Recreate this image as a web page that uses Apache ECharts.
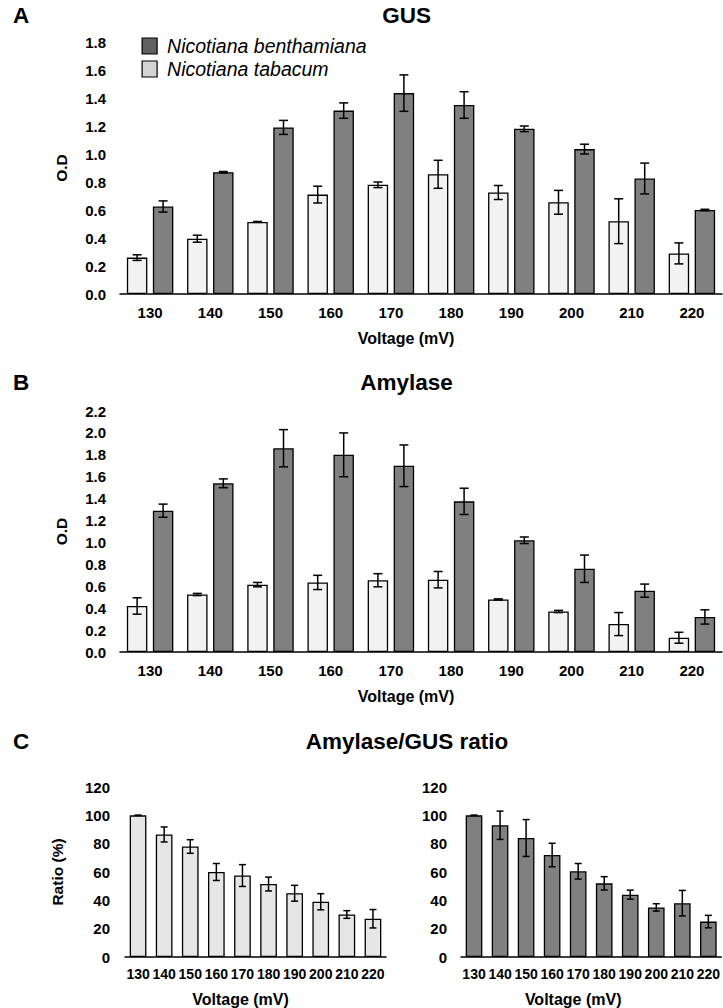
<!DOCTYPE html>
<html>
<head>
<meta charset="utf-8">
<script src="https://cdn.jsdelivr.net/npm/echarts@6/dist/echarts.min.js"></script>
<style>
html,body{margin:0;padding:0;background:#fff;}
#chart{width:723px;height:1008px;}
</style>
</head>
<body>
<div id="chart"></div>
<script>
// ---- data ----
const categories = ['130','140','150','160','170','180','190','200','210','220'];

const gusBenth    = [0.625, 0.87, 1.19, 1.31, 1.435, 1.35, 1.18, 1.035, 0.825, 0.60];
const gusBenthErr = [0.04, 0.005, 0.05, 0.055, 0.13, 0.095, 0.02, 0.035, 0.11, 0.005];
const gusTab      = [0.26, 0.395, 0.515, 0.71, 0.78, 0.855, 0.725, 0.655, 0.52, 0.29];
const gusTabErr   = [0.02, 0.025, 0.003, 0.06, 0.02, 0.10, 0.05, 0.085, 0.16, 0.075];

const amyBenth    = [1.29, 1.54, 1.86, 1.80, 1.70, 1.375, 1.02, 0.76, 0.56, 0.32];
const amyBenthErr = [0.06, 0.04, 0.17, 0.20, 0.19, 0.12, 0.03, 0.125, 0.06, 0.065];
const amyTab      = [0.42, 0.525, 0.615, 0.635, 0.655, 0.66, 0.48, 0.37, 0.255, 0.13];
const amyTabErr   = [0.075, 0.01, 0.02, 0.065, 0.06, 0.075, 0.005, 0.01, 0.105, 0.05];

const ratioTab      = [100, 86.5, 78, 60, 57.5, 51.5, 45, 39, 30, 27];
const ratioTabErr   = [0, 5.3, 4.8, 6, 7.7, 4.9, 5.6, 5.7, 2.7, 6.5];
const ratioBenth    = [100, 93, 84, 72, 60.5, 52, 44, 35, 38, 25];
const ratioBenthErr = [0, 10, 13, 8.3, 5.5, 4.7, 3.2, 2.6, 9, 4.4];

const nameBenth = 'Nicotiana benthamiana';
const nameTab = 'Nicotiana tabacum';

// ---- styling ----
const FONT = "'Liberation Sans', Arial, sans-serif";
const DARK = '#808080';
const LIGHT = '#f2f2f2';
const LIGHT_C = '#e6e6e6';

function errData(vals, errs) {
  return vals.map((v, i) => [i, v, errs[i]]);
}

function errRender(sign, widthFrac, gapFrac, capHalf) {
  return function (params, api) {
    const i = api.value(0), v = api.value(1), e = api.value(2);
    const bw = api.size([1, 0])[0];
    const w = bw * widthFrac;
    const off = sign * (w + w * gapFrac) / 2;
    const top = api.coord([i, v + e]);
    const bot = api.coord([i, v - e]);
    const x = top[0] + off;
    const st = { stroke: '#000', lineWidth: 1.5 };
    return {
      type: 'group',
      children: [
        { type: 'line', shape: { x1: x, y1: top[1], x2: x, y2: bot[1] }, style: st },
        { type: 'line', shape: { x1: x - capHalf, y1: top[1], x2: x + capHalf, y2: top[1] }, style: st },
        { type: 'line', shape: { x1: x - capHalf, y1: bot[1], x2: x + capHalf, y2: bot[1] }, style: st }
      ]
    };
  };
}

function xAx(gridIndex, nameGap, labelMargin, labelSize, nameShift) {
  return {
    type: 'category', gridIndex: gridIndex, data: categories,
    axisTick: { show: false },
    axisLine: { lineStyle: { color: '#000', width: 1.5 } },
    axisLabel: { interval: 0, hideOverlap: false, margin: labelMargin, color: '#000', fontWeight: 'bold', fontSize: labelSize, fontFamily: FONT },
    name: 'Voltage (mV)', nameLocation: 'middle', nameGap: nameGap,
    nameTextStyle: { color: '#000', fontWeight: 'bold', fontSize: 16, fontFamily: FONT, padding: [0, nameShift * 2, 0, 0] }
  };
}

function yAx(gridIndex, max, interval, decimals, name, nameGap, margin) {
  return {
    type: 'value', gridIndex: gridIndex, min: 0, max: max, interval: interval,
    splitLine: { show: false }, axisLine: { show: false }, axisTick: { show: false },
    axisLabel: { margin: margin, color: '#000', fontWeight: 'bold', fontSize: 15, fontFamily: FONT,
      formatter: v => v.toFixed(decimals) },
    name: name, nameLocation: 'middle', nameGap: nameGap, nameRotate: 90,
    nameTextStyle: { color: '#000', fontWeight: 'bold', fontSize: 15.5, fontFamily: FONT }
  };
}

const BW = 0.34, BG = 0.27;
const barStyle = (c) => ({ color: c, borderColor: '#000', borderWidth: 1.3 });

function titleText(t, x, y) {
  return { type: 'text', x: x, y: y, style: { text: t, fill: '#000', font: "bold 22.5px " + FONT, textAlign: 'center', textVerticalAlign: 'middle' } };
}

const option = {
  animation: false,
  backgroundColor: '#fff',
  graphic: [
    titleText('A', 21, 15), titleText('GUS', 406.5, 15),
    titleText('B', 21, 382), titleText('Amylase', 406.5, 382),
    titleText('C', 21, 741), titleText('Amylase/GUS ratio', 407, 741)
  ],
  legend: {
    data: [
      { name: nameBenth, itemStyle: { color: '#606060' } },
      { name: nameTab, itemStyle: { color: '#d4d4d4' } }
    ],
    orient: 'vertical', left: 136.5, top: 31, padding: 5,
    itemWidth: 15, itemHeight: 16, itemGap: 3,
    icon: 'rect',
    itemStyle: { borderColor: '#000', borderWidth: 1.2 },
    textStyle: { fontSize: 19.5, fontStyle: 'italic', color: '#000', fontFamily: FONT, lineHeight: 16, padding: [0, 0, 0, 5] },
    selectedMode: false
  },
  grid: [
    { left: 120, top: 42, width: 602, height: 252 },
    { left: 120, top: 411, width: 602, height: 241 },
    { left: 125, top: 787, width: 261, height: 170 },
    { left: 461, top: 787, width: 261, height: 170 }
  ],
  xAxis: [ xAx(0, 36, 11, 15, 15), xAx(1, 36, 10.5, 15, 15), xAx(2, 34, 9.5, 14, 15), xAx(3, 34, 9.5, 14, 18) ],
  yAxis: [
    yAx(0, 1.8, 0.2, 1, 'O.D', 51, 14),
    yAx(1, 2.2, 0.2, 1, 'O.D', 51, 14),
    yAx(2, 120, 20, 0, 'Ratio (%)', 60, 15),
    yAx(3, 120, 20, 0, '', 50, 14)
  ],
  series: [
    { type: 'bar', name: nameTab, xAxisIndex: 0, yAxisIndex: 0, data: gusTab, barWidth: BW * 100 + '%', barGap: BG * 100 + '%', itemStyle: barStyle(LIGHT) },
    { type: 'bar', name: nameBenth, xAxisIndex: 0, yAxisIndex: 0, data: gusBenth, barWidth: BW * 100 + '%', barGap: BG * 100 + '%', itemStyle: barStyle(DARK) },
    { type: 'custom', name: 'errGusTab', xAxisIndex: 0, yAxisIndex: 0, data: errData(gusTab, gusTabErr), renderItem: errRender(-1, BW, BG, 4.5), encode: { x: 0, y: 1 }, z: 10 },
    { type: 'custom', name: 'errGusBenth', xAxisIndex: 0, yAxisIndex: 0, data: errData(gusBenth, gusBenthErr), renderItem: errRender(1, BW, BG, 4.5), encode: { x: 0, y: 1 }, z: 10 },

    { type: 'bar', name: nameTab, xAxisIndex: 1, yAxisIndex: 1, data: amyTab, barWidth: BW * 100 + '%', barGap: BG * 100 + '%', itemStyle: barStyle(LIGHT) },
    { type: 'bar', name: nameBenth, xAxisIndex: 1, yAxisIndex: 1, data: amyBenth, barWidth: BW * 100 + '%', barGap: BG * 100 + '%', itemStyle: barStyle(DARK) },
    { type: 'custom', name: 'errAmyTab', xAxisIndex: 1, yAxisIndex: 1, data: errData(amyTab, amyTabErr), renderItem: errRender(-1, BW, BG, 4.5), encode: { x: 0, y: 1 }, z: 10 },
    { type: 'custom', name: 'errAmyBenth', xAxisIndex: 1, yAxisIndex: 1, data: errData(amyBenth, amyBenthErr), renderItem: errRender(1, BW, BG, 4.5), encode: { x: 0, y: 1 }, z: 10 },

    { type: 'bar', name: 'ratioTab', xAxisIndex: 2, yAxisIndex: 2, data: ratioTab, barWidth: '64%', itemStyle: barStyle(LIGHT_C) },
    { type: 'custom', name: 'errRatioTab', xAxisIndex: 2, yAxisIndex: 2, data: errData(ratioTab, ratioTabErr), renderItem: errRender(0, 0.64, 0, 3.5), encode: { x: 0, y: 1 }, z: 10 },
    { type: 'bar', name: 'ratioBenth', xAxisIndex: 3, yAxisIndex: 3, data: ratioBenth, barWidth: '64%', itemStyle: barStyle(DARK) },
    { type: 'custom', name: 'errRatioBenth', xAxisIndex: 3, yAxisIndex: 3, data: errData(ratioBenth, ratioBenthErr), renderItem: errRender(0, 0.64, 0, 3.5), encode: { x: 0, y: 1 }, z: 10 }
  ]
};

const chart = echarts.init(document.getElementById('chart'), null, { renderer: 'svg', width: 723, height: 1008 });
chart.setOption(option);
</script>
</body>
</html>
